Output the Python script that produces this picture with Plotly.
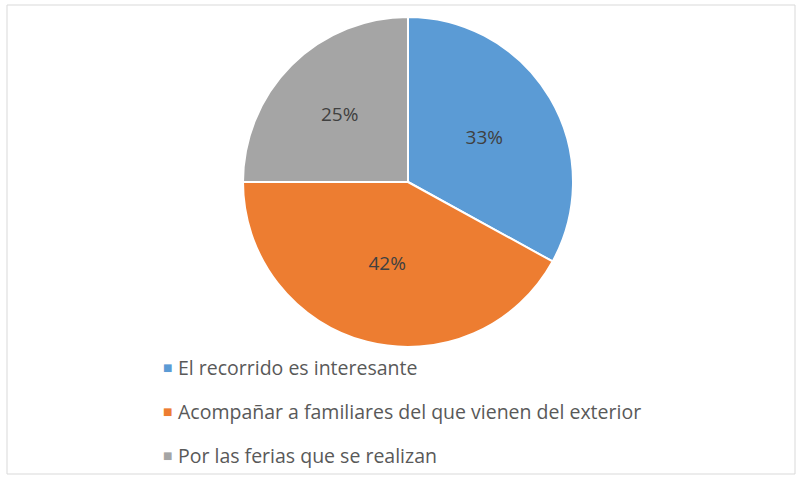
import plotly.graph_objects as go

# Reasons for visiting (share of responses, %)
categories = [
    "El recorrido es interesante",
    "Acompañar a familiares del que vienen del exterior",
    "Por las ferias que se realizan",
]
shares = [33, 42, 25]
colors = ["#5B9BD5", "#ED7D31", "#A5A5A5"]

W, H = 799, 481

fig = go.Figure()
fig.add_trace(go.Pie(
    labels=categories,
    values=shares,
    sort=False,
    direction="clockwise",
    rotation=0,
    marker=dict(colors=colors, line=dict(color="white", width=2)),
    texttemplate="%{value}%",
    textposition="inside",
    insidetextorientation="horizontal",
    textfont=dict(family="Open Sans", size=19, color="#404040"),
    domain=dict(x=[243 / W, 573 / W], y=[1 - 347 / H, 1 - 17 / H]),
    showlegend=False,
    hoverinfo="label+percent",
))

# Legend rows: coloured square + label, stacked below the pie
legend_top = 367
row_gap = 44
for i, (name, col) in enumerate(zip(categories, colors)):
    yc = 1 - (legend_top + i * row_gap) / H
    fig.add_annotation(
        x=161 / W, y=yc, xref="paper", yref="paper",
        text="■", showarrow=False, xanchor="left", yanchor="middle",
        font=dict(family="DejaVu Sans", size=10, color=col),
    )
    fig.add_annotation(
        x=176 / W, y=yc, xref="paper", yref="paper",
        text=name, showarrow=False, xanchor="left", yanchor="middle",
        font=dict(family="Open Sans", size=19.5, color="#595959"),
    )

# Light frame around the chart area
fig.add_shape(
    type="rect", xref="paper", yref="paper",
    x0=7 / W, x1=795 / W, y0=1 - 474 / H, y1=1 - 5 / H,
    line=dict(color="#D9D9D9", width=1), fillcolor="rgba(0,0,0,0)",
)

fig.update_layout(
    width=W, height=H,
    margin=dict(l=0, r=0, t=0, b=0),
    paper_bgcolor="white",
    plot_bgcolor="white",
)

fig.write_html("out.html")
